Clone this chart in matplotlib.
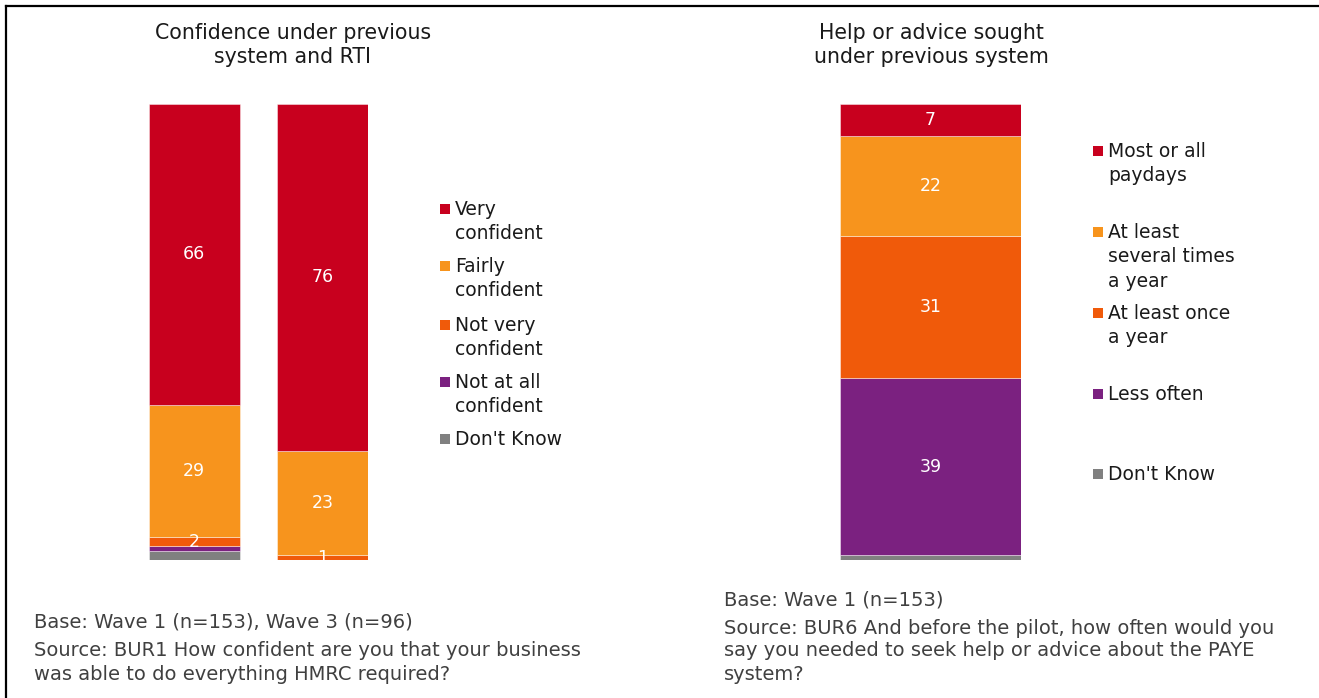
import matplotlib
matplotlib.use("Agg")
import matplotlib.pyplot as plt
from matplotlib.lines import Line2D
from matplotlib.patches import Rectangle

# ---------------- data ----------------
left_categories = ["Wave 1", "Wave 3"]
left_series = ["Very\nconfident", "Fairly\nconfident", "Not very\nconfident", "Not at all\nconfident", "Don't Know"]
very_confident = [66, 76]
fairly_confident = [29, 23]
not_very_confident = [2, 1]
not_at_all_confident = [1, 0]
dont_know_left = [2, 0]

right_series = ["Most or all\npaydays", "At least\nseveral times\na year", "At least once\na year", "Less often", "Don't Know"]
most_or_all = [7]
several_times = [22]
once_a_year = [31]
less_often = [39]
dont_know_right = [1]

left_title = "Confidence under previous\nsystem and RTI"
right_title = "Help or advice sought\nunder previous system"
left_notes = ["Base: Wave 1 (n=153), Wave 3 (n=96)",
              "Source: BUR1 How confident are you that your business",
              "was able to do everything HMRC required?"]
right_notes = ["Base: Wave 1 (n=153)",
               "Source: BUR6 And before the pilot, how often would you",
               "say you needed to seek help or advice about the PAYE",
               "system?"]

colors = ["#C8001E", "#F7941D", "#F05A0A", "#7B2180", "#808080"]

# ---------------- figure ----------------
W, H = 1319, 698
DPI = 100
plt.rcParams['font.family'] = ['DejaVu Sans']
fig = plt.figure(figsize=(W / DPI, H / DPI), dpi=DPI)

def px_axes(x0, x1, y_top, y_bot):
    return fig.add_axes([x0 / W, 1 - y_bot / H, (x1 - x0) / W, (y_bot - y_top) / H])

def clean(ax):
    for s in ax.spines.values():
        s.set_visible(False)
    ax.set_xticks([])
    ax.set_yticks([])
    ax.patch.set_alpha(0)

# left chart
bw = 91 / 129
axL = px_axes(149, 368, 104, 560)
axL.set_xlim(-bw / 2, 1 + bw / 2)
axL.set_ylim(0, 100)
clean(axL)
left_stack = [dont_know_left, not_at_all_confident, not_very_confident, fairly_confident, very_confident]
left_cols = colors[::-1]
xs = list(range(len(left_categories)))
bottom = [0, 0]
label_levels = {2, 3, 4}  # which stack levels get data labels
for lvl, (vals, col) in enumerate(zip(left_stack, left_cols)):
    axL.bar(xs, vals, bw, bottom=bottom, color=col, edgecolor=(1, 1, 1, 0.5), linewidth=0.6)
    for i, v in enumerate(vals):
        if lvl in label_levels and v > 0:
            axL.text(xs[i], bottom[i] + v / 2, str(v), ha='center', va='center',
                     color='white', fontsize=12.5)
    bottom = [b + v for b, v in zip(bottom, vals)]

# right chart
axR = px_axes(840, 1021, 104, 560)
axR.set_xlim(-0.5, 0.5)
axR.set_ylim(0, 100)
clean(axR)
right_stack = [dont_know_right, less_often, once_a_year, several_times, most_or_all]
rb = [0]
for lvl, (vals, col) in enumerate(zip(right_stack, left_cols)):
    axR.bar([0], vals, 1.0, bottom=rb, color=col, edgecolor=(1, 1, 1, 0.5), linewidth=0.6)
    if lvl >= 1:
        axR.text(0, rb[0] + vals[0] / 2, str(vals[0]), ha='center', va='center',
                 color='white', fontsize=12.5)
    rb = [rb[0] + vals[0]]

# titles
def ftext(x, y, s, **kw):
    fig.text(x / W, 1 - y / H, s, **kw)

ftext(293, 45, left_title, ha='center', va='center', fontsize=14.8, color='#1a1a1a', linespacing=1.22)
ftext(931, 45, right_title, ha='center', va='center', fontsize=14.8, color='#1a1a1a', linespacing=1.22)

# legends (manual)
def legend(x_marker, x_text, y_first_lines, labels):
    for y, lab, col in zip(y_first_lines, labels, colors):
        fig.add_artist(Rectangle((x_marker / W, 1 - (y + 5) / H), 10 / W, 10 / H,
                                 transform=fig.transFigure, color=col, lw=0))
        ftext(x_text, y - 9, lab, ha='left', va='top', fontsize=13.5, color='#1a1a1a',
              linespacing=1.36)

legend(440, 455, [209, 266, 325, 382, 439], left_series)
legend(1093, 1108, [151, 232, 313, 394, 474], right_series)

# notes
for y, s in zip([622, 651, 674], left_notes):
    ftext(34, y, s, ha='left', va='center', fontsize=14, color='#404040')
for y, s in zip([600, 628, 651, 674], right_notes):
    ftext(724, y, s, ha='left', va='center', fontsize=14, color='#404040')

# border (top and left)
fig.add_artist(Line2D([6 / W, 1.0], [1 - 6 / H, 1 - 6 / H], transform=fig.transFigure,
                      color='black', lw=1.6))
fig.add_artist(Line2D([6 / W, 6 / W], [0, 1 - 6 / H], transform=fig.transFigure,
                      color='black', lw=1.6))

fig.savefig("out.png", dpi=DPI)
